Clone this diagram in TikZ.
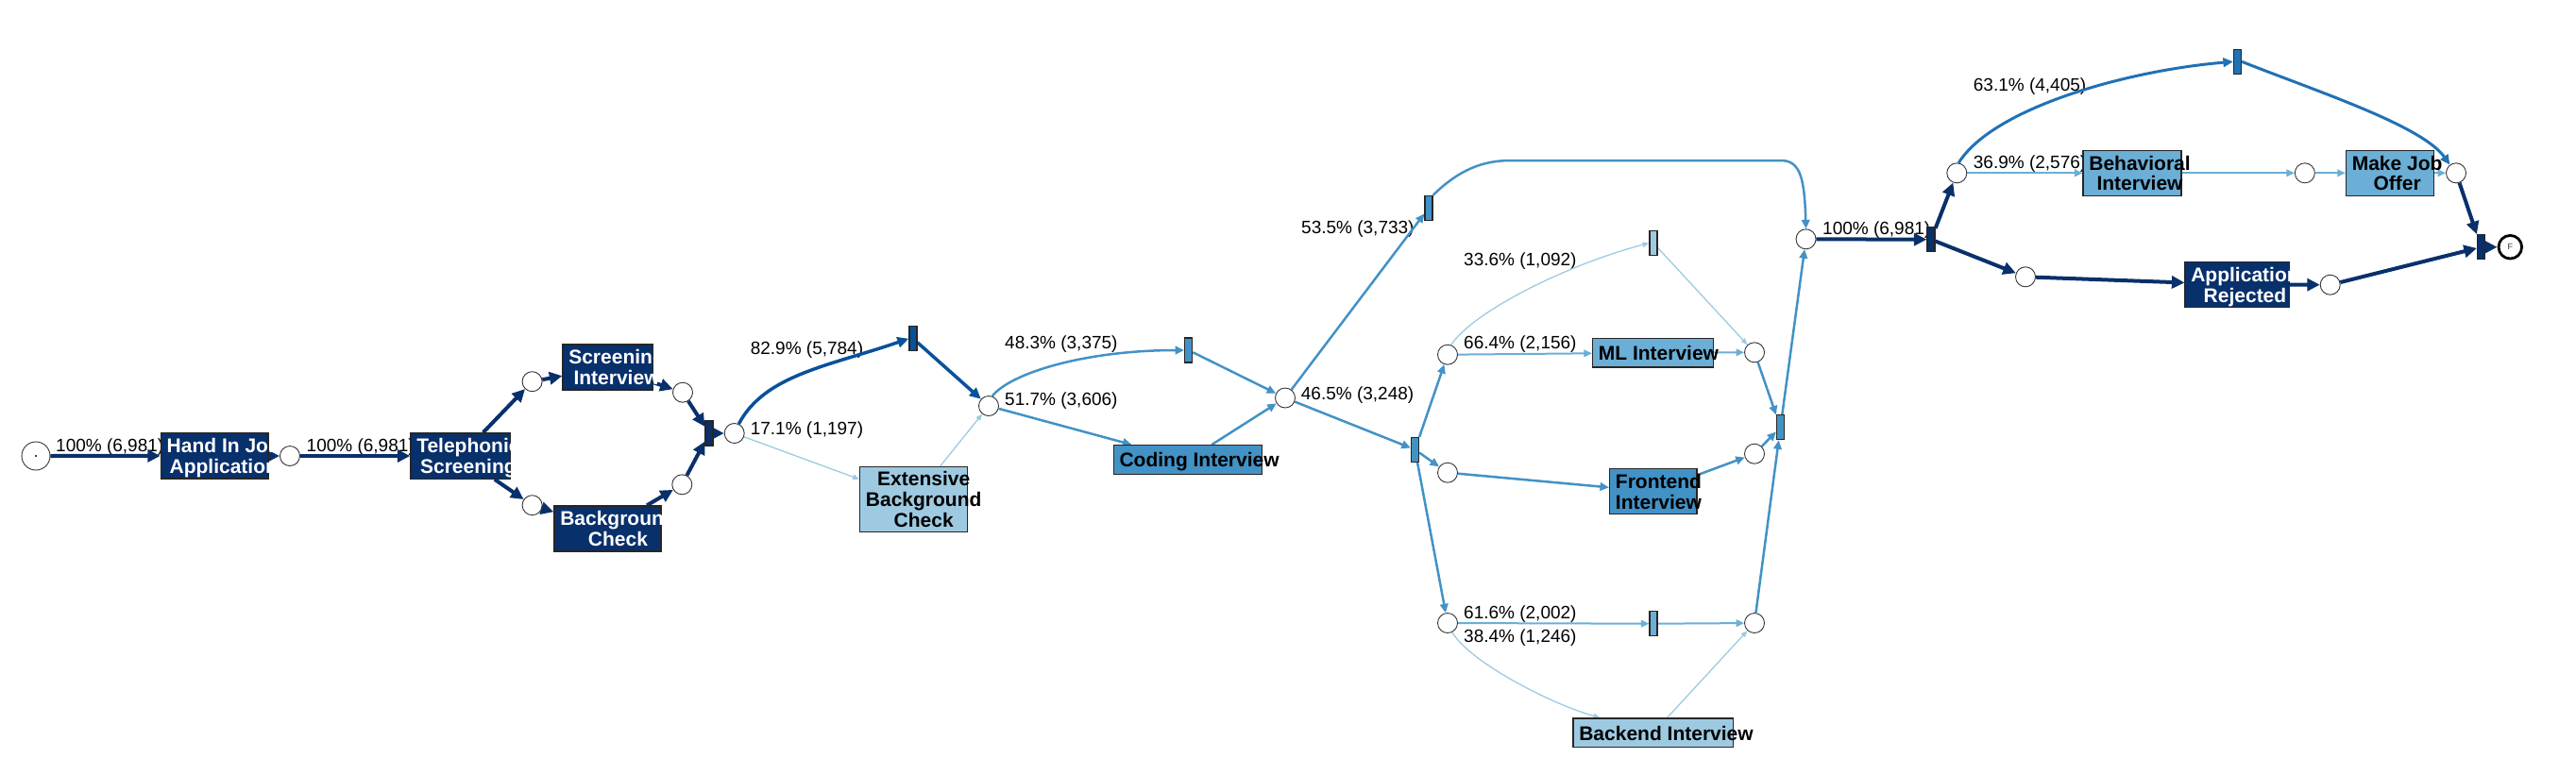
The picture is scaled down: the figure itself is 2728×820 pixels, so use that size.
\documentclass[tikz,border=0pt]{standalone}
\usepackage{fontspec}
\setmainfont{Liberation Sans}
\usetikzlibrary{arrows.meta}
\pgfdeclarelayer{bg}
\pgfsetlayers{bg,main}
\definecolor{cnavy}{HTML}{08306B}
\definecolor{cdblue}{HTML}{08519C}
\definecolor{cbtwo}{HTML}{2171B5}
\definecolor{cmblue}{HTML}{4292C6}
\definecolor{clblue}{HTML}{6BAED6}
\definecolor{cllblue}{HTML}{9ECAE1}
\begin{document}
\begin{tikzpicture}[x=1pt,y=-1pt,
  place/.style={circle, draw=black!80, fill=white, line width=0.9pt, minimum size=21pt, inner sep=0pt},
  trans/.style={rectangle, draw=black!85, line width=1.2pt, minimum width=8pt, minimum height=26pt, inner sep=0pt},
  act/.style={rectangle, draw=black!85, line width=1.3pt, inner sep=0pt},
  btxt/.style={anchor=north west, inner sep=0pt, align=center, font=\bfseries\fontsize{21}{21.7}\selectfont},
  lbl/.style={anchor=base west, inner sep=0pt, font=\fontsize{19}{21}\selectfont},
  enavy/.style={draw=cnavy, line width=4pt, -{Triangle[length=13.5pt,width=13pt]}},
  edblue/.style={draw=cdblue, line width=3.5pt, -{Triangle[length=12pt,width=11pt]}},
  ebtwo/.style={draw=cbtwo, line width=3pt, -{Triangle[length=10.5pt,width=9.5pt]}},
  emblue/.style={draw=cmblue, line width=2.5pt, -{Triangle[length=9.5pt,width=8.5pt]}},
  elblue/.style={draw=clblue, line width=2pt, -{Triangle[length=8.5pt,width=7.5pt]}},
  ellblue/.style={draw=cllblue, line width=1.3pt, -{Triangle[length=7pt,width=5.5pt]}}]
\useasboundingbox (0,0) rectangle (2728,820);

% places
\node[place, minimum size=30pt] (start) at (38,483) {};
\fill[black] (start.center) circle (1.2pt);
\node[place] (p1) at (307,483) {};
\node[place] (sii) at (563.6,404.2) {};
\node[place] (bci) at (563.6,535.2) {};
\node[place] (sio) at (723,415.7) {};
\node[place] (bco) at (722.3,513.3) {};
\node[place] (c1) at (777.7,459) {};
\node[place] (c2) at (1047,430) {};
\node[place] (c3) at (1361,421.5) {};
\node[place] (mli) at (1533,375.7) {};
\node[place] (fei) at (1533,500.7) {};
\node[place] (bei) at (1533,660) {};
\node[place] (mlo) at (1858,373.3) {};
\node[place] (feo) at (1858,480.7) {};
\node[place] (beo) at (1858,660) {};
\node[place] (m1) at (1912.5,253.3) {};
\node[place] (up) at (2072.3,183.3) {};
\node[place] (low) at (2145,293.3) {};
\node[place] (bho) at (2440.8,183.3) {};
\node[place] (ofo) at (2601,183.3) {};
\node[place] (rjo) at (2467.7,301.7) {};
\node[circle, draw=black, fill=white, line width=2.8pt, minimum size=24.6pt, inner sep=0pt, text=black!80, font=\fontsize{9}{9}\selectfont] (fin) at (2658.3,261.7) {F};

% transitions
\node[trans, fill=cnavy] (j1) at (751,459) {};
\node[trans, fill=cdblue] (t1) at (967,358.7) {};
\node[trans, fill=cmblue] (t2) at (1258.7,371) {};
\node[trans, fill=cmblue] (t3) at (1513,220.3) {};
\node[trans, fill=cmblue] (s1) at (1498.5,476.3) {};
\node[trans, fill=cllblue] (t4) at (1751,257.5) {};
\node[trans, fill=clblue] (t5) at (1751,660.7) {};
\node[trans, fill=cmblue] (j2) at (1885.5,452.7) {};
\node[trans, fill=cnavy] (s2) at (2045,253.7) {};
\node[trans, fill=cbtwo] (t6) at (2369.5,65.3) {};
\node[trans, fill=cnavy] (j3) at (2627.5,261.8) {};

% activities
\node[act, fill=cnavy, minimum width=113.5pt, minimum height=48.3pt] (hand) at (227.2,482.9) {};
\node[btxt, text=white] (handt) at ([xshift=6.7pt,yshift=18.5pt]hand.west) {Hand In Job\\Application};
\node[act, fill=cnavy, minimum width=105.6pt, minimum height=48.3pt] (tele) at (487.8,483) {};
\node[btxt, text=white] (telet) at ([xshift=6.7pt,yshift=18.5pt]tele.west) {Telephonic\\Screening};
\node[act, fill=cnavy, minimum width=95.5pt, minimum height=48pt] (scr) at (643.8,389) {};
\node[btxt, text=white] (scrt) at ([xshift=6.7pt,yshift=18.5pt]scr.west) {Screening\\Interview};
\node[act, fill=cnavy, minimum width=113pt, minimum height=48pt] (bgc) at (643.5,560) {};
\node[btxt, text=white] (bgct) at ([xshift=6.7pt,yshift=18.5pt]bgc.west) {Background\\Check};
\node[act, fill=cllblue, minimum width=113.8pt, minimum height=69pt] (ebc) at (967.6,528.8) {};
\node[btxt] (ebct) at ([xshift=6.7pt,yshift=29.4pt]ebc.west) {Extensive\\Background\\Check};
\node[act, fill=cmblue, minimum width=157.5pt, minimum height=31pt] (code) at (1258,487.2) {};
\node[btxt] (codet) at ([xshift=6.7pt,yshift=7.7pt]code.west) {Coding Interview};
\node[act, fill=clblue, minimum width=128pt, minimum height=30.7pt] (ml) at (1750.6,373.7) {};
\node[btxt] (mlt) at ([xshift=6.7pt,yshift=7.7pt]ml.west) {ML Interview};
\node[act, fill=cmblue, minimum width=92.3pt, minimum height=47.9pt] (fe) at (1750.8,520.6) {};
\node[btxt] (fet) at ([xshift=6.7pt,yshift=18.5pt]fe.west) {Frontend\\Interview};
\node[act, fill=cllblue, minimum width=169.5pt, minimum height=30.7pt] (be) at (1750.8,776.3) {};
\node[btxt] (bet) at ([xshift=6.7pt,yshift=7.7pt]be.west) {Backend Interview};
\node[act, fill=clblue, minimum width=103.8pt, minimum height=48pt] (beh) at (2258,183.3) {};
\node[btxt] (beht) at ([xshift=6.7pt,yshift=18.5pt]beh.west) {Behavioral\\Interview};
\node[act, fill=clblue, minimum width=93pt, minimum height=48pt] (offer) at (2531,183.3) {};
\node[btxt] (offert) at ([xshift=6.7pt,yshift=18.5pt]offer.west) {Make Job\\Offer};
\node[act, fill=cnavy, minimum width=110.5pt, minimum height=48.4pt] (rej) at (2369.3,301.5) {};
\node[btxt, text=white] (rejt) at ([xshift=6.7pt,yshift=18.5pt]rej.west) {Application\\Rejected};

\begin{pgfonlayer}{bg}
% labels
\node[lbl] (l1) at (59,478.5) {100\% (6,981)};
\node[lbl] (l2) at (324.5,478.5) {100\% (6,981)};
\node[lbl] (l82) at (794.6,375.8) {82.9\% (5,784)};
\node[lbl] (l17) at (794.6,460) {17.1\% (1,197)};
\node[lbl] (l48) at (1064,369) {48.3\% (3,375)};
\node[lbl] (l51) at (1064,429.8) {51.7\% (3,606)};
\node[lbl] (l46) at (1377.7,423.5) {46.5\% (3,248)};
\node[lbl] (l53) at (1378,247.5) {53.5\% (3,733)};
\node[lbl] (l33) at (1550,281) {33.6\% (1,092)};
\node[lbl] (l66) at (1550,369) {66.4\% (2,156)};
\node[lbl] (l61) at (1550,655) {61.6\% (2,002)};
\node[lbl] (l38) at (1550,680.8) {38.4\% (1,246)};
\node[lbl] (l100) at (1930,248.5) {100\% (6,981)};
\node[lbl] (l63) at (2089.7,96.8) {63.1\% (4,405)};
\node[lbl] (l36) at (2089.7,178.5) {36.9\% (2,576)};

% edges
\draw[enavy] (start) -- (hand);
\draw[enavy] (hand) -- (p1);
\draw[enavy] (p1) -- (tele);
\draw[enavy] (tele) -- (sii);
\draw[enavy] (tele) -- (bci);
\draw[enavy] (sii) -- (scr);
\draw[enavy] (bci) -- (bgc);
\draw[enavy] (scr) -- (sio);
\draw[enavy] (bgc) -- (bco);
\draw[enavy] (sio) -- (j1);
\draw[enavy] (bco) -- (j1);
\draw[enavy] (j1) -- (c1);
\draw[edblue] (c1.65) .. controls (810,397) and (877,388) .. (t1.west);
\draw[edblue] (t1) -- (c2);
\draw[ellblue] (c1) -- (ebc);
\draw[ellblue] (ebc) -- (c2);
\draw[emblue] (c2.70) .. controls (1070,395) and (1150,371) .. (t2.west);
\draw[emblue] (c2) -- (code);
\draw[emblue] (t2) -- (c3);
\draw[emblue] (code) -- (c3);
\draw[emblue] (c3) -- (t3);
\draw[emblue] (c3) -- (s1);
\draw[emblue] (t3.north east) .. controls (1545,180) and (1570,170) .. (1600,170) -- (1886,170) .. controls (1907,170) and (1911,190) .. (m1.north);
\draw[emblue] (s1) -- (mli);
\draw[emblue] (s1) -- (fei);
\draw[emblue] (s1) -- (bei);
\draw[ellblue] (mli.70) .. controls (1560,330) and (1660,280) .. (t4.west);
\draw[elblue] (mli) -- (ml);
\draw[elblue] (ml) -- (mlo);
\draw[ellblue] (t4) -- (mlo);
\draw[emblue] (mlo) -- (j2);
\draw[emblue] (fei) -- (fe);
\draw[emblue] (fe) -- (feo);
\draw[emblue] (feo) -- (j2);
\draw[elblue] (bei) -- (t5);
\draw[ellblue] (bei.-63) .. controls (1555,700) and (1640,745) .. ([xshift=29pt]be.north west);
\draw[elblue] (t5) -- (beo);
\draw[ellblue] (be) -- (beo);
\draw[emblue] (beo) -- (j2);
\draw[emblue] (j2) -- (m1);
\draw[enavy] (m1) -- (s2);
\draw[enavy] (s2) -- (up);
\draw[enavy] (s2) -- (low);
\draw[ebtwo] (up.80) .. controls (2110,115) and (2250,75) .. (t6.west);
\draw[elblue] (up) -- (beh);
\draw[ebtwo] (t6.east) .. controls (2454,97) and (2565,133) .. (ofo.127);
\draw[elblue] (beh) -- (bho);
\draw[elblue] (bho) -- (offer);
\draw[elblue] (offer) -- (ofo);
\draw[enavy] (ofo) -- (j3);
\draw[enavy] (low) -- (rej);
\draw[enavy] (rej) -- (rjo);
\draw[enavy] (rjo) -- (j3);
\draw[enavy] (j3) -- (fin);
\end{pgfonlayer}
\end{tikzpicture}
\end{document}
